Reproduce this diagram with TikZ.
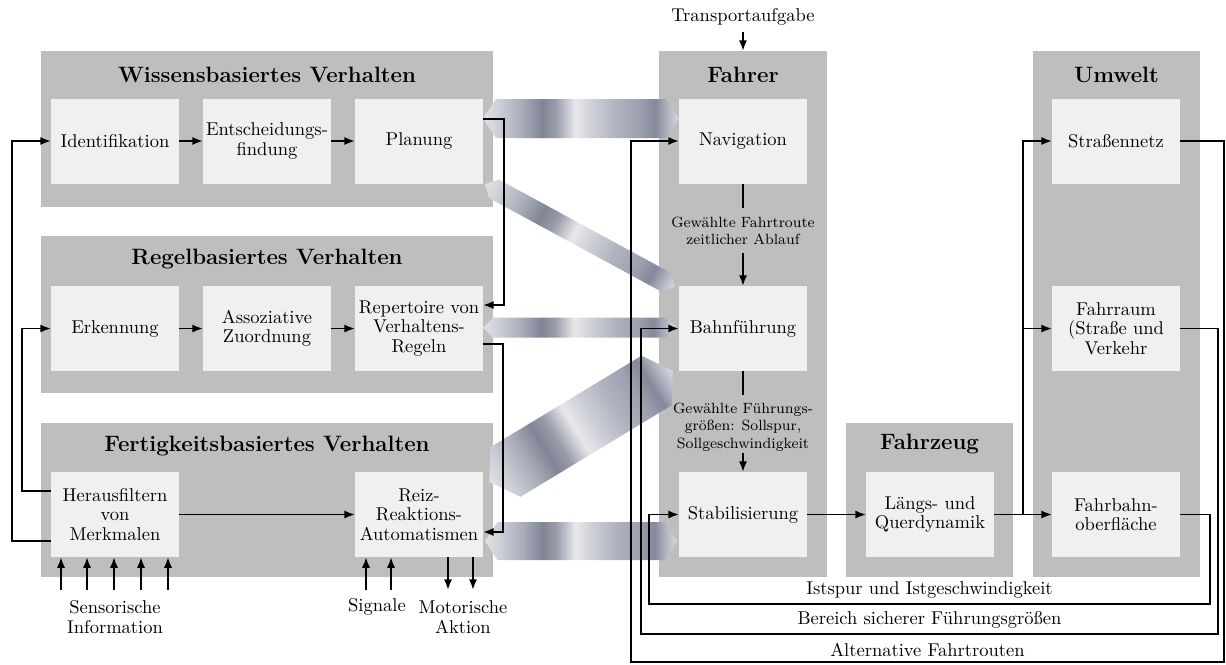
\documentclass[tikz,border=0pt]{standalone}
\usepackage{fontspec}
\usetikzlibrary{arrows.meta,calc,fit}

\definecolor{grpgray}{RGB}{190,190,190}
\definecolor{boxgray}{RGB}{240,240,240}
% metallic colour ramp for the wide double arrows
\definecolor{mA}{RGB}{224,225,230}
\definecolor{mB}{RGB}{205,207,214}
\definecolor{mC}{RGB}{168,172,185}
\definecolor{mD}{RGB}{128,133,150}
\definecolor{mE}{RGB}{152,156,170}
\definecolor{mF}{RGB}{232,232,235}
\definecolor{mG}{RGB}{205,207,214}
\definecolor{mH}{RGB}{176,179,191}
\definecolor{mI}{RGB}{156,160,175}
\definecolor{mJ}{RGB}{132,137,155}
\definecolor{mK}{RGB}{184,186,198}
\definecolor{mL}{RGB}{218,219,225}
\pgfdeclarehorizontalshading{metal}{100bp}{%
  color(0bp)=(mA); color(25bp)=(mA); color(29bp)=(mB); color(35bp)=(mC);
  color(40bp)=(mD); color(43.5bp)=(mE); color(48.5bp)=(mF); color(53bp)=(mG);
  color(59bp)=(mH); color(65bp)=(mI); color(69bp)=(mJ); color(72.5bp)=(mK);
  color(75bp)=(mL); color(100bp)=(mL)}

% wide shaded double arrow: centre x, centre y, angle, length, half width, tip depth
\newcommand\metalband[6]{%
  \begin{scope}[transform canvas={shift={(#1,#2)},rotate=#3}]
    \shade[shading=metal] (-#4/2,0) -- (-#4/2+#6,-#5) -- (#4/2-#6,-#5) -- (#4/2,0)
      -- (#4/2-#6,#5) -- (-#4/2+#6,#5) -- cycle;
  \end{scope}}

\tikzset{
  grp/.style={fill=grpgray, draw=none, inner sep=0pt, outer sep=0pt},
  blk/.style={fill=boxgray, draw=none, minimum width=69.1pt, minimum height=45.9pt,
    inner sep=1pt, outer sep=0pt, align=center, font=\fontsize{10}{10.5}\selectfont},
  ttl/.style={font=\large\bfseries, inner sep=0pt},
  arr/.style={line width=0.95pt, -{Latex[length=5.8pt,width=4.4pt]}},
  ln/.style={line width=0.95pt},
  small/.style={font=\footnotesize, align=center, inner sep=0pt},
  lbl/.style={align=center, font=\fontsize{10}{10.5}\selectfont, inner sep=0pt},
}

\begin{document}
\begin{tikzpicture}[x=0.54pt, y=-0.54pt]
\useasboundingbox (0,0) rectangle (1226,664);

% group panels
\node[grp, fit={(41,51) (493,207)}] (wiss) {};
\node[grp, fit={(41,236) (493,393)}] (regel) {};
\node[grp, fit={(41,423) (493,577)}] (fert) {};
\node[grp, fit={(659,51) (827,577)}] (fahrer) {};
\node[grp, fit={(846,423) (1013,577)}] (fzg) {};
\node[grp, fit={(1033,51) (1200,577)}] (umwelt) {};

\node[ttl] (twiss) at ($(wiss.north)+(0,24)$) {Wissensbasiertes Verhalten};
\node[ttl] (tregel) at ($(regel.north)+(0,23)$) {Regelbasiertes Verhalten};
\node[ttl] (tfert) at ($(fert.north)+(0,23)$) {Fertigkeitsbasiertes Verhalten};
\node[ttl] (tfahrer) at ($(fahrer.north)+(0,24)$) {Fahrer};
\node[ttl] (tfzg) at ($(fzg.north)+(0,21)$) {Fahrzeug};
\node[ttl] (tumwelt) at ($(umwelt.north)+(0,24)$) {Umwelt};

% shaded double arrows between the behaviour levels and the driver tasks
\metalband{581}{118.5}{0}{196}{19.5}{13}
\metalband{580}{235.5}{-28.5}{216}{10.5}{10}
\metalband{580}{327.5}{0}{194}{10}{10}
\metalband{581}{426.25}{31.2}{214.6}{29}{19}
\metalband{581}{541}{0}{192}{19}{12.5}

% blocks
\node[blk] (ident) at (115,141) {Identifikation};
\node[blk] (ent) at (267,141) {Entscheidungs-\\findung};
\node[blk] (plan) at (419,141) {Planung};
\node[blk] (erk) at (115,328.5) {Erkennung};
\node[blk] (ass) at (267,328.5) {Assoziative\\Zuordnung};
\node[blk] (rep) at (419,328.5) {Repertoire von\\Verhaltens-\\Regeln};
\node[blk] (her) at (115,514.5) {Herausfiltern\\von\\Merkmalen};
\node[blk] (reiz) at (419,514.5) {Reiz-\\Reaktions-\\Automatismen};
\node[blk] (nav) at (743,141) {Navigation};
\node[blk] (bahn) at (743,328.5) {Bahnführung};
\node[blk] (stab) at (743,514.5) {Stabilisierung};
\node[blk] (lq) at (930,514.5) {Längs- und\\Querdynamik};
\node[blk] (snetz) at (1116,141) {Straßennetz};
\node[blk] (fraum) at (1116,328.5) {Fahrraum\\(Straße und\\Verkehr};
\node[blk] (fbahn) at (1116,514.5) {Fahrbahn-\\oberfläche};

% flow within the levels
\draw[arr] (ident) -- (ent);
\draw[arr] (ent) -- (plan);
\draw[arr] (erk) -- (ass);
\draw[arr] (ass) -- (rep);
\draw[arr] (her) -- (reiz);

% links between the levels
\draw[arr] ($(plan.east)+(0,-22)$) -- ++(21,0) |- ($(rep.east)+(0,-23.5)$);
\draw[arr] ($(rep.east)+(0,15.5)$) -- ++(20,0) |- ($(reiz.east)+(0,17.5)$);
\draw[arr] ($(her.west)+(0,-23.5)$) -- ++(-29,0) |- (erk.west);
\draw[arr] ($(her.west)+(0,26.5)$) -- ++(-39,0) |- (ident.west);

% inputs and outputs of the skill level
\node[lbl] (sens) at (115,617) {Sensorische\\Information};
\node[lbl] (sig) at (377,607) {Signale};
\node[lbl] (mot) at (463,617) {Motorische\\Aktion};
\foreach \x in {61,87,114,141,168} \draw[arr] (\x,590) -- (\x,557);
\foreach \x in {366,391} \draw[arr] (\x,590) -- (\x,557);
\foreach \x in {448,473} \draw[arr] (\x,557) -- (\x,590);

% driver task chain
\node (ta) at (743,17) {Transportaufgabe};
\draw[arr] (ta) -- (fahrer);
\node[small] (l1) at (743,231) {Gewählte Fahrtroute\\zeitlicher Ablauf};
\node[small] (l2) at (743,427) {Gewählte Führungs-\\größen: Sollspur,\\Sollgeschwindigkeit};
\coordinate (c1) at (743,208);
\coordinate (c2) at (743,253);
\coordinate (c3) at (743,395);
\coordinate (c4) at (743,453);
\draw[ln] (nav) -- (c1);
\draw[arr] (c2) -- (bahn);
\draw[ln] (bahn) -- (c3);
\draw[arr] (c4) -- (stab);

% vehicle and environment
\coordinate (br) at ($(lq.east)!0.5!(fbahn.west)$);
\draw[arr] (stab) -- (lq);
\draw[arr] (lq) -- (fbahn);
\draw[arr] (br) |- (fraum.west);
\draw[arr] (br) |- (snetz.west);

% feedback loops to the driver
\draw[arr] (fbahn.east) -| (1210,604) -- node[above, inner sep=2.5pt] {Istspur und Istgeschwindigkeit} (649,604) |- (stab.west);
\draw[arr] (fraum.east) -| (1218,634) -- node[above, inner sep=2.5pt] {Bereich sicherer Führungsgrößen} (641,634) |- (bahn.west);
\draw[arr] (snetz.east) -| (1224,662) -- node[above, inner sep=2.5pt] {Alternative Fahrtrouten} (631,662) |- (nav.west);
\end{tikzpicture}
\end{document}
